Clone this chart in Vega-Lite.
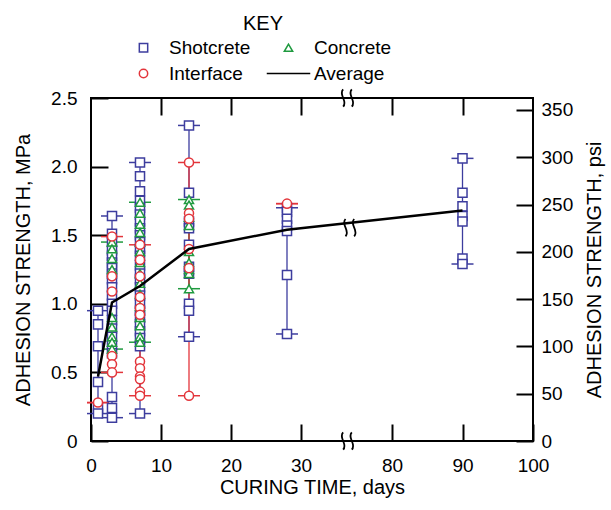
{
  "$schema": "https://vega.github.io/schema/vega-lite/v6.json",
  "autosize": "none",
  "width": 442,
  "height": 343,
  "padding": {"left": 91, "top": 98, "right": 78, "bottom": 69},
  "background": "white",
  "config": {
    "font": "Liberation Sans",
    "view": {"stroke": "black", "strokeWidth": 2},
    "axis": {
      "domain": false, "grid": false, "tickColor": "black", "tickWidth": 2, "tickSize": -17, "labelFlush": false,
      "labelFontSize": 19, "labelColor": "black", "labelFont": "Liberation Sans",
      "titleFontSize": 20, "titleFontWeight": "normal", "titleColor": "black", "titleFont": "Liberation Sans"
    }
  },
  "datasets": {
    "obs": [
      {"day": 1, "series": "Shotcrete", "value": 0.95},
      {"day": 1, "series": "Shotcrete", "value": 0.85},
      {"day": 1, "series": "Shotcrete", "value": 0.69},
      {"day": 1, "series": "Shotcrete", "value": 0.43},
      {"day": 1, "series": "Shotcrete", "value": 0.24},
      {"day": 1, "series": "Shotcrete", "value": 0.2},
      {"day": 1, "series": "Interface", "value": 0.28},

      {"day": 3, "series": "Shotcrete", "value": 1.64},
      {"day": 3, "series": "Shotcrete", "value": 1.51},
      {"day": 3, "series": "Shotcrete", "value": 1.45},
      {"day": 3, "series": "Shotcrete", "value": 1.39},
      {"day": 3, "series": "Shotcrete", "value": 1.35},
      {"day": 3, "series": "Shotcrete", "value": 1.3},
      {"day": 3, "series": "Shotcrete", "value": 1.26},
      {"day": 3, "series": "Shotcrete", "value": 1.22},
      {"day": 3, "series": "Shotcrete", "value": 1.18},
      {"day": 3, "series": "Shotcrete", "value": 1.12},
      {"day": 3, "series": "Shotcrete", "value": 1.06},
      {"day": 3, "series": "Shotcrete", "value": 1.0},
      {"day": 3, "series": "Shotcrete", "value": 0.95},
      {"day": 3, "series": "Shotcrete", "value": 0.88},
      {"day": 3, "series": "Shotcrete", "value": 0.82},
      {"day": 3, "series": "Shotcrete", "value": 0.76},
      {"day": 3, "series": "Shotcrete", "value": 0.7},
      {"day": 3, "series": "Shotcrete", "value": 0.64},
      {"day": 3, "series": "Shotcrete", "value": 0.32},
      {"day": 3, "series": "Shotcrete", "value": 0.24},
      {"day": 3, "series": "Shotcrete", "value": 0.17},
      {"day": 3, "series": "Concrete", "value": 1.45},
      {"day": 3, "series": "Concrete", "value": 1.4},
      {"day": 3, "series": "Concrete", "value": 1.33},
      {"day": 3, "series": "Concrete", "value": 1.25},
      {"day": 3, "series": "Concrete", "value": 0.9},
      {"day": 3, "series": "Concrete", "value": 0.83},
      {"day": 3, "series": "Concrete", "value": 0.76},
      {"day": 3, "series": "Concrete", "value": 0.72},
      {"day": 3, "series": "Concrete", "value": 0.67},
      {"day": 3, "series": "Interface", "value": 1.49},
      {"day": 3, "series": "Interface", "value": 1.2},
      {"day": 3, "series": "Interface", "value": 1.09},
      {"day": 3, "series": "Interface", "value": 0.62},
      {"day": 3, "series": "Interface", "value": 0.56},
      {"day": 3, "series": "Interface", "value": 0.5},

      {"day": 7, "series": "Shotcrete", "value": 2.03},
      {"day": 7, "series": "Shotcrete", "value": 1.93},
      {"day": 7, "series": "Shotcrete", "value": 1.82},
      {"day": 7, "series": "Shotcrete", "value": 1.75},
      {"day": 7, "series": "Shotcrete", "value": 1.7},
      {"day": 7, "series": "Shotcrete", "value": 1.65},
      {"day": 7, "series": "Shotcrete", "value": 1.6},
      {"day": 7, "series": "Shotcrete", "value": 1.55},
      {"day": 7, "series": "Shotcrete", "value": 1.5},
      {"day": 7, "series": "Shotcrete", "value": 1.45},
      {"day": 7, "series": "Shotcrete", "value": 1.4},
      {"day": 7, "series": "Shotcrete", "value": 1.35},
      {"day": 7, "series": "Shotcrete", "value": 1.28},
      {"day": 7, "series": "Shotcrete", "value": 1.22},
      {"day": 7, "series": "Shotcrete", "value": 1.18},
      {"day": 7, "series": "Shotcrete", "value": 1.12},
      {"day": 7, "series": "Shotcrete", "value": 1.06},
      {"day": 7, "series": "Shotcrete", "value": 1.0},
      {"day": 7, "series": "Shotcrete", "value": 0.95},
      {"day": 7, "series": "Shotcrete", "value": 0.9},
      {"day": 7, "series": "Shotcrete", "value": 0.85},
      {"day": 7, "series": "Shotcrete", "value": 0.8},
      {"day": 7, "series": "Shotcrete", "value": 0.75},
      {"day": 7, "series": "Shotcrete", "value": 0.69},
      {"day": 7, "series": "Shotcrete", "value": 0.2},
      {"day": 7, "series": "Concrete", "value": 1.74},
      {"day": 7, "series": "Concrete", "value": 1.66},
      {"day": 7, "series": "Concrete", "value": 1.58},
      {"day": 7, "series": "Concrete", "value": 1.52},
      {"day": 7, "series": "Concrete", "value": 1.45},
      {"day": 7, "series": "Concrete", "value": 1.38},
      {"day": 7, "series": "Concrete", "value": 1.3},
      {"day": 7, "series": "Concrete", "value": 1.22},
      {"day": 7, "series": "Concrete", "value": 1.15},
      {"day": 7, "series": "Concrete", "value": 1.07},
      {"day": 7, "series": "Concrete", "value": 0.98},
      {"day": 7, "series": "Concrete", "value": 0.9},
      {"day": 7, "series": "Concrete", "value": 0.84},
      {"day": 7, "series": "Concrete", "value": 0.76},
      {"day": 7, "series": "Concrete", "value": 0.72},
      {"day": 7, "series": "Interface", "value": 1.43},
      {"day": 7, "series": "Interface", "value": 1.32},
      {"day": 7, "series": "Interface", "value": 1.2},
      {"day": 7, "series": "Interface", "value": 1.05},
      {"day": 7, "series": "Interface", "value": 0.97},
      {"day": 7, "series": "Interface", "value": 0.92},
      {"day": 7, "series": "Interface", "value": 0.58},
      {"day": 7, "series": "Interface", "value": 0.53},
      {"day": 7, "series": "Interface", "value": 0.47},
      {"day": 7, "series": "Interface", "value": 0.45},
      {"day": 7, "series": "Interface", "value": 0.36},
      {"day": 7, "series": "Interface", "value": 0.33},

      {"day": 14, "series": "Shotcrete", "value": 2.3},
      {"day": 14, "series": "Shotcrete", "value": 1.81},
      {"day": 14, "series": "Shotcrete", "value": 1.6},
      {"day": 14, "series": "Shotcrete", "value": 1.55},
      {"day": 14, "series": "Shotcrete", "value": 1.43},
      {"day": 14, "series": "Shotcrete", "value": 1.27},
      {"day": 14, "series": "Shotcrete", "value": 1.22},
      {"day": 14, "series": "Shotcrete", "value": 1.0},
      {"day": 14, "series": "Shotcrete", "value": 0.95},
      {"day": 14, "series": "Shotcrete", "value": 0.76},
      {"day": 14, "series": "Concrete", "value": 1.76},
      {"day": 14, "series": "Concrete", "value": 1.72},
      {"day": 14, "series": "Concrete", "value": 1.63},
      {"day": 14, "series": "Concrete", "value": 1.57},
      {"day": 14, "series": "Concrete", "value": 1.38},
      {"day": 14, "series": "Concrete", "value": 1.3},
      {"day": 14, "series": "Concrete", "value": 1.25},
      {"day": 14, "series": "Concrete", "value": 1.22},
      {"day": 14, "series": "Concrete", "value": 1.11},
      {"day": 14, "series": "Interface", "value": 2.03},
      {"day": 14, "series": "Interface", "value": 1.66},
      {"day": 14, "series": "Interface", "value": 1.62},
      {"day": 14, "series": "Interface", "value": 1.4},
      {"day": 14, "series": "Interface", "value": 1.26},
      {"day": 14, "series": "Interface", "value": 0.33},

      {"day": 28, "series": "Shotcrete", "value": 1.7},
      {"day": 28, "series": "Shotcrete", "value": 1.67},
      {"day": 28, "series": "Shotcrete", "value": 1.62},
      {"day": 28, "series": "Shotcrete", "value": 1.57},
      {"day": 28, "series": "Shotcrete", "value": 1.53},
      {"day": 28, "series": "Shotcrete", "value": 1.21},
      {"day": 28, "series": "Shotcrete", "value": 0.78},
      {"day": 28, "series": "Interface", "value": 1.73},

      {"day": 90, "series": "Shotcrete", "value": 2.06},
      {"day": 90, "series": "Shotcrete", "value": 1.81},
      {"day": 90, "series": "Shotcrete", "value": 1.71},
      {"day": 90, "series": "Shotcrete", "value": 1.64},
      {"day": 90, "series": "Shotcrete", "value": 1.6},
      {"day": 90, "series": "Shotcrete", "value": 1.33},
      {"day": 90, "series": "Shotcrete", "value": 1.29}
    ],
    "avg": [
      {"day": 1, "value": 0.47},
      {"day": 3, "value": 1.01},
      {"day": 7, "value": 1.13},
      {"day": 14, "value": 1.4},
      {"day": 28, "value": 1.54},
      {"day": 90, "value": 1.68}
    ],
    "brk": [
      {"day": 36.7, "value": 0},
      {"day": 36.7, "value": 2.5},
      {"day": 37.3, "value": 1.555}
    ]
  },
  "layer": [
    {
      "data": {"name": "obs"},
      "transform": [
        {"aggregate": [{"op": "min", "field": "value", "as": "vmin"}, {"op": "max", "field": "value", "as": "vmax"}], "groupby": ["day", "series"]}
      ],
      "layer": [
        {
          "mark": {"type": "rule", "strokeWidth": 1.3},
          "encoding": {
            "x": {"field": "day", "type": "quantitative", "axis": null, "scale": {"type": "linear", "domain": [0, 37, 80, 100], "range": [0, 259, 301, 442], "nice": false, "zero": false}},
            "y": {"field": "vmin", "type": "quantitative", "axis": null, "scale": {"domain": [0, 2.5], "nice": false}},
            "y2": {"field": "vmax"},
            "stroke": {"condition": [{"test": "datum.series == 'Shotcrete'", "value": "#3d3d9e"}, {"test": "datum.series == 'Concrete'", "value": "#1f9a3f"}], "value": "#e3353b"}
          }
        },
        {
          "mark": {"type": "point", "shape": "M-1,0H1", "size": 484, "strokeWidth": 1.5, "filled": false, "opacity": 1},
          "encoding": {
            "x": {"field": "day", "type": "quantitative", "axis": null, "scale": {"type": "linear", "domain": [0, 37, 80, 100], "range": [0, 259, 301, 442], "nice": false, "zero": false}},
            "y": {"field": "vmin", "type": "quantitative", "axis": null, "scale": {"domain": [0, 2.5], "nice": false}},
            "stroke": {"condition": [{"test": "datum.series == 'Shotcrete'", "value": "#3d3d9e"}, {"test": "datum.series == 'Concrete'", "value": "#1f9a3f"}], "value": "#e3353b"}
          }
        },
        {
          "mark": {"type": "point", "shape": "M-1,0H1", "size": 484, "strokeWidth": 1.5, "filled": false, "opacity": 1},
          "encoding": {
            "x": {"field": "day", "type": "quantitative", "axis": null, "scale": {"type": "linear", "domain": [0, 37, 80, 100], "range": [0, 259, 301, 442], "nice": false, "zero": false}},
            "y": {"field": "vmax", "type": "quantitative", "axis": null, "scale": {"domain": [0, 2.5], "nice": false}},
            "stroke": {"condition": [{"test": "datum.series == 'Shotcrete'", "value": "#3d3d9e"}, {"test": "datum.series == 'Concrete'", "value": "#1f9a3f"}], "value": "#e3353b"}
          }
        }
      ]
    },
    {
      "data": {"name": "obs"},
      "mark": {"type": "point", "filled": false, "fill": "white", "size": 82, "strokeWidth": 1.5, "opacity": 1},
      "encoding": {
        "x": {"field": "day", "type": "quantitative", "scale": {"type": "linear", "domain": [0, 37, 80, 100], "range": [0, 259, 301, 442], "nice": false, "zero": false},
          "axis": {"orient": "bottom", "values": [0, 10, 20, 30, 80, 90, 100], "format": "d", "title": "CURING TIME, days", "labelPadding": 32, "titlePadding": 2}},
        "y": {"field": "value", "type": "quantitative", "scale": {"domain": [0, 2.5], "nice": false},
          "axis": {"orient": "left", "values": [0, 0.5, 1, 1.5, 2, 2.5], "labelExpr": "datum.value == 0 ? '0' : format(datum.value, '.1f')", "title": "ADHESION STRENGTH, MPa", "labelPadding": 31, "titlePadding": 17}},
        "color": {"field": "series", "type": "nominal",
          "scale": {"domain": ["Shotcrete", "Concrete", "Interface", "Average"], "range": ["#3d3d9e", "#1f9a3f", "#e3353b", "#000000"]},
          "legend": {"orient": "none", "legendX": 43, "legendY": -84, "columns": 2, "direction": "horizontal", "title": "KEY", "titleAnchor": "middle", "titleFontSize": 20, "titleFontWeight": "normal", "titleColor": "black", "labelFontSize": 19, "labelColor": "black", "symbolSize": 70, "symbolStrokeWidth": 1.5, "labelOffset": 16, "columnPadding": 12, "rowPadding": 6, "titlePadding": 4, "padding": 0}},
        "shape": {"field": "series", "type": "nominal",
          "scale": {"domain": ["Shotcrete", "Concrete", "Interface", "Average"], "range": ["square", "triangle-up", "circle", "M-5.2,0H5.2"]},
          "legend": {"orient": "none", "legendX": 43, "legendY": -84, "columns": 2, "direction": "horizontal", "title": "KEY", "titleAnchor": "middle", "titleFontSize": 20, "titleFontWeight": "normal", "titleColor": "black", "labelFontSize": 19, "labelColor": "black", "symbolSize": 70, "symbolStrokeWidth": 1.5, "labelOffset": 16, "columnPadding": 12, "rowPadding": 6, "titlePadding": 4, "padding": 0}}
      }
    },
    {
      "data": {"name": "avg"},
      "mark": {"type": "line", "color": "black", "strokeWidth": 2.5},
      "encoding": {
        "x": {"field": "day", "type": "quantitative", "scale": {"type": "linear", "domain": [0, 37, 80, 100], "range": [0, 259, 301, 442], "nice": false, "zero": false},
          "axis": {"orient": "top", "values": [10, 20, 30, 80, 90], "labels": false, "title": null}},
        "y": {"field": "value", "type": "quantitative", "scale": {"domain": [0, 2.5], "nice": false},
          "axis": {"orient": "right", "values": [0, 0.344738, 0.689476, 1.034214, 1.378951, 1.723689, 2.068427, 2.413165], "labelExpr": "format(round(datum.value * 145.038), 'd')", "title": "ADHESION STRENGTH, psi", "titleAngle": 270, "labelPadding": 25, "titlePadding": 32}}
      }
    },
    {
      "data": {"name": "brk"},
      "mark": {"type": "point", "shape": "M-0.55,-1C-1.15,-0.35 0.05,0.35 -0.55,1M0.45,-1C-0.15,-0.35 1.05,0.35 0.45,1", "size": 300, "strokeWidth": 1.8, "color": "black", "filled": false, "opacity": 1},
      "encoding": {
        "x": {"field": "day", "type": "quantitative", "axis": null, "scale": {"type": "linear", "domain": [0, 37, 80, 100], "range": [0, 259, 301, 442], "nice": false, "zero": false}},
        "y": {"field": "value", "type": "quantitative", "axis": null, "scale": {"domain": [0, 2.5], "nice": false}}
      }
    }
  ],
  "resolve": {"axis": {"x": "independent", "y": "independent"}}
}
